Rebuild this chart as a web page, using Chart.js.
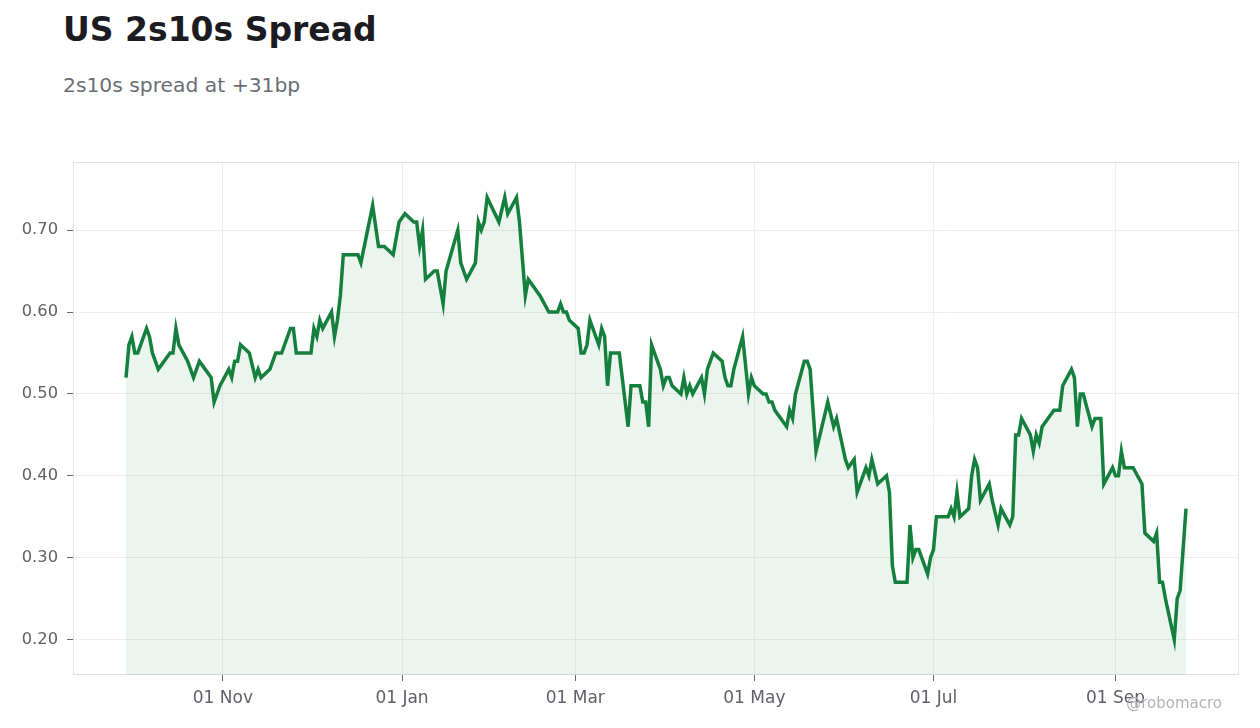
<!DOCTYPE html>
<html>
<head>
<meta charset="utf-8">
<script src="https://cdn.jsdelivr.net/npm/chart.js@4.4.1/dist/chart.umd.min.js"></script>
<style>
  html, body { margin: 0; padding: 0; background: #fff; }
  body { width: 1260px; height: 728px; position: relative; overflow: hidden; font-family: 'DejaVu Sans', sans-serif; }
  #title { position: absolute; left: 63px; top: 13px; margin: 0; font-size: 33px; line-height: 1; font-weight: bold; color: #1b1b21; }
  #subtitle { position: absolute; left: 63px; top: 75px; margin: 0; font-size: 20.3px; line-height: 1; color: #6b6d75; }
  #mark { position: absolute; right: 38px; top: 696px; font-size: 15px; line-height: 1; color: #b3b3b6; z-index: 2; }
  #wrap { position: absolute; left: 0; top: 0; width: 1260px; height: 728px; }
</style>
</head>
<body>
<h1 id="title">US 2s10s Spread</h1>
<p id="subtitle">2s10s spread at +31bp</p>
<div id="wrap"><canvas id="spreadChart"></canvas></div>
<div id="mark">@robomacro</div>
<script>
// daily closes (only the turning points)
const dates = [
  '2024-09-29','2024-09-30','2024-10-01','2024-10-02','2024-10-03','2024-10-06','2024-10-07','2024-10-08','2024-10-10','2024-10-14',
  '2024-10-15','2024-10-16','2024-10-17','2024-10-20','2024-10-22','2024-10-24','2024-10-26','2024-10-28','2024-10-29','2024-10-31',
  '2024-11-03','2024-11-04','2024-11-05','2024-11-06','2024-11-07','2024-11-10','2024-11-12','2024-11-13','2024-11-14','2024-11-17',
  '2024-11-19','2024-11-21','2024-11-24','2024-11-25','2024-11-26','2024-12-01','2024-12-02','2024-12-03','2024-12-04','2024-12-05',
  '2024-12-08','2024-12-09','2024-12-10','2024-12-11','2024-12-12','2024-12-17','2024-12-18','2024-12-22','2024-12-24','2024-12-26',
  '2024-12-29','2024-12-31','2025-01-02','2025-01-05','2025-01-06','2025-01-07','2025-01-08','2025-01-09','2025-01-12','2025-01-13',
  '2025-01-15','2025-01-16','2025-01-20','2025-01-21','2025-01-23','2025-01-26','2025-01-27','2025-01-28','2025-01-29','2025-01-30',
  '2025-02-03','2025-02-05','2025-02-06','2025-02-09','2025-02-10','2025-02-12','2025-02-13','2025-02-15','2025-02-17','2025-02-20',
  '2025-02-23','2025-02-24','2025-02-25','2025-02-26','2025-02-27','2025-03-02','2025-03-03','2025-03-04','2025-03-05','2025-03-06',
  '2025-03-09','2025-03-10','2025-03-11','2025-03-12','2025-03-13','2025-03-16','2025-03-17','2025-03-19','2025-03-20','2025-03-23',
  '2025-03-24','2025-03-25','2025-03-26','2025-03-27','2025-03-30','2025-03-31','2025-04-01','2025-04-02','2025-04-03','2025-04-06',
  '2025-04-07','2025-04-08','2025-04-09','2025-04-10','2025-04-13','2025-04-14','2025-04-15','2025-04-17','2025-04-20','2025-04-21',
  '2025-04-22','2025-04-23','2025-04-24','2025-04-27','2025-04-29','2025-04-30','2025-05-01','2025-05-04','2025-05-05','2025-05-06',
  '2025-05-07','2025-05-08','2025-05-10','2025-05-12','2025-05-13','2025-05-14','2025-05-15','2025-05-18','2025-05-19','2025-05-20',
  '2025-05-22','2025-05-26','2025-05-28','2025-05-29','2025-06-01','2025-06-02','2025-06-04','2025-06-05','2025-06-08','2025-06-09',
  '2025-06-10','2025-06-12','2025-06-15','2025-06-16','2025-06-17','2025-06-18','2025-06-22','2025-06-23','2025-06-24','2025-06-25',
  '2025-06-26','2025-06-29','2025-06-30','2025-07-01','2025-07-02','2025-07-06','2025-07-07','2025-07-08','2025-07-09','2025-07-10',
  '2025-07-13','2025-07-14','2025-07-15','2025-07-16','2025-07-17','2025-07-20','2025-07-21','2025-07-23','2025-07-24','2025-07-27',
  '2025-07-28','2025-07-29','2025-07-30','2025-07-31','2025-08-03','2025-08-04','2025-08-05','2025-08-06','2025-08-07','2025-08-09',
  '2025-08-11','2025-08-13','2025-08-14','2025-08-17','2025-08-18','2025-08-19','2025-08-20','2025-08-21','2025-08-24','2025-08-25',
  '2025-08-27','2025-08-28','2025-08-31','2025-09-01','2025-09-02','2025-09-03','2025-09-04','2025-09-07','2025-09-10','2025-09-11',
  '2025-09-14','2025-09-15','2025-09-16','2025-09-17','2025-09-18','2025-09-21','2025-09-22','2025-09-23','2025-09-25'
]
const spread = [
  0.52,0.56,0.57,0.55,0.55,0.58,0.57,0.55,0.53,0.55,
  0.55,0.58,0.56,0.54,0.52,0.54,0.53,0.52,0.49,0.51,
  0.53,0.52,0.54,0.54,0.56,0.55,0.52,0.53,0.52,0.53,
  0.55,0.55,0.58,0.58,0.55,0.55,0.58,0.57,0.59,0.58,
  0.60,0.57,0.59,0.62,0.67,0.67,0.66,0.73,0.68,0.68,
  0.67,0.71,0.72,0.71,0.71,0.68,0.70,0.64,0.65,0.65,
  0.61,0.65,0.70,0.66,0.64,0.66,0.71,0.70,0.71,0.74,
  0.71,0.74,0.72,0.74,0.71,0.62,0.64,0.63,0.62,0.60,
  0.60,0.61,0.60,0.60,0.59,0.58,0.55,0.55,0.56,0.59,
  0.56,0.58,0.57,0.51,0.55,0.55,0.52,0.46,0.51,0.51,
  0.49,0.49,0.46,0.56,0.53,0.51,0.52,0.52,0.51,0.50,
  0.52,0.50,0.51,0.50,0.52,0.50,0.53,0.55,0.54,0.52,
  0.51,0.51,0.53,0.57,0.50,0.52,0.51,0.50,0.50,0.49,
  0.49,0.48,0.47,0.46,0.48,0.47,0.50,0.54,0.54,0.53,
  0.43,0.49,0.46,0.47,0.42,0.41,0.42,0.38,0.41,0.40,
  0.42,0.39,0.40,0.38,0.29,0.27,0.27,0.34,0.30,0.31,
  0.31,0.28,0.30,0.31,0.35,0.35,0.36,0.35,0.38,0.35,
  0.36,0.40,0.42,0.41,0.37,0.39,0.37,0.34,0.36,0.34,
  0.35,0.45,0.45,0.47,0.45,0.43,0.45,0.44,0.46,0.47,
  0.48,0.48,0.51,0.53,0.52,0.46,0.50,0.50,0.46,0.47,
  0.47,0.39,0.41,0.40,0.40,0.43,0.41,0.41,0.39,0.33,
  0.32,0.33,0.27,0.27,0.25,0.20,0.25,0.26,0.36
]
const tickDates = ['2024-11-01', '2025-01-01', '2025-03-01', '2025-05-01', '2025-07-01', '2025-09-01']
const tickLabels = ['01 Nov', '01 Jan', '01 Mar', '01 May', '01 Jul', '01 Sep']
const yTicks = [0.2, 0.3, 0.4, 0.5, 0.6, 0.7]

const DAY = 86400000
function toDay(s) {
  const p = s.split('-')
  return Date.UTC(+p[0], +p[1] - 1, +p[2]) / DAY
}

const points = dates.map((d, i) => ({ x: toDay(d), y: spread[i] }))
const xMin = points[0].x
const xMax = points[points.length - 1].x
const xPad = (xMax - xMin) * 0.05
const yMin = Math.min(...spread)
const yMax = Math.max(...spread)
const yPad = (yMax - yMin) * 0.08

// light box round the plot area
const frame = {
  id: 'frame',
  beforeDatasetsDraw(chart) {
    const { ctx, chartArea: a } = chart
    ctx.save()
    ctx.strokeStyle = '#e2e2e2'
    ctx.lineWidth = 1
    ctx.strokeRect(a.left + 0.5, a.top + 0.5, a.width - 1, a.height - 1)
    ctx.restore()
  },
}

Chart.defaults.font.family = "'DejaVu Sans', sans-serif"

new Chart(document.getElementById('spreadChart'), {
  type: 'line',
  data: {
    datasets: [
      {
        label: 'US 2s10s',
        data: points,
        borderColor: '#15803d',
        backgroundColor: 'rgba(21, 128, 61, 0.085)',
        borderWidth: 3.5,
        pointRadius: 0,
        tension: 0,
        fill: 'start',
      },
    ],
  },
  options: {
    responsive: true,
    maintainAspectRatio: false,
    animation: false,
    layout: { padding: { top: 162, right: 21, left: 0, bottom: 0 } },
    plugins: {
      legend: { display: false },
      tooltip: { enabled: false },
    },
    scales: {
      x: {
        type: 'linear',
        min: xMin - xPad,
        max: xMax + xPad,
        afterBuildTicks: (axis) => { axis.ticks = tickDates.map((d) => ({ value: toDay(d) })) },
        afterFit: (axis) => { axis.height = 53 },
        ticks: {
          callback: (v, i) => tickLabels[i],
          color: '#5f616a',
          font: { size: 17 },
          padding: 7,
          maxRotation: 0,
          autoSkip: false,
        },
        grid: { color: '#eeeeee', tickColor: '#666', tickLength: 6 },
        border: { display: false },
      },
      y: {
        min: yMin - yPad,
        max: yMax + yPad,
        afterBuildTicks: (axis) => { axis.ticks = yTicks.map((v) => ({ value: v })) },
        afterFit: (axis) => { axis.width = 73 },
        ticks: {
          callback: (v) => v.toFixed(2),
          color: '#5f616a',
          font: { size: 16.3 },
          padding: 9,
        },
        grid: { color: '#eeeeee', tickColor: '#666', tickLength: 6 },
        border: { display: false },
      },
    },
  },
  plugins: [frame],
})
</script>
</body>
</html>
